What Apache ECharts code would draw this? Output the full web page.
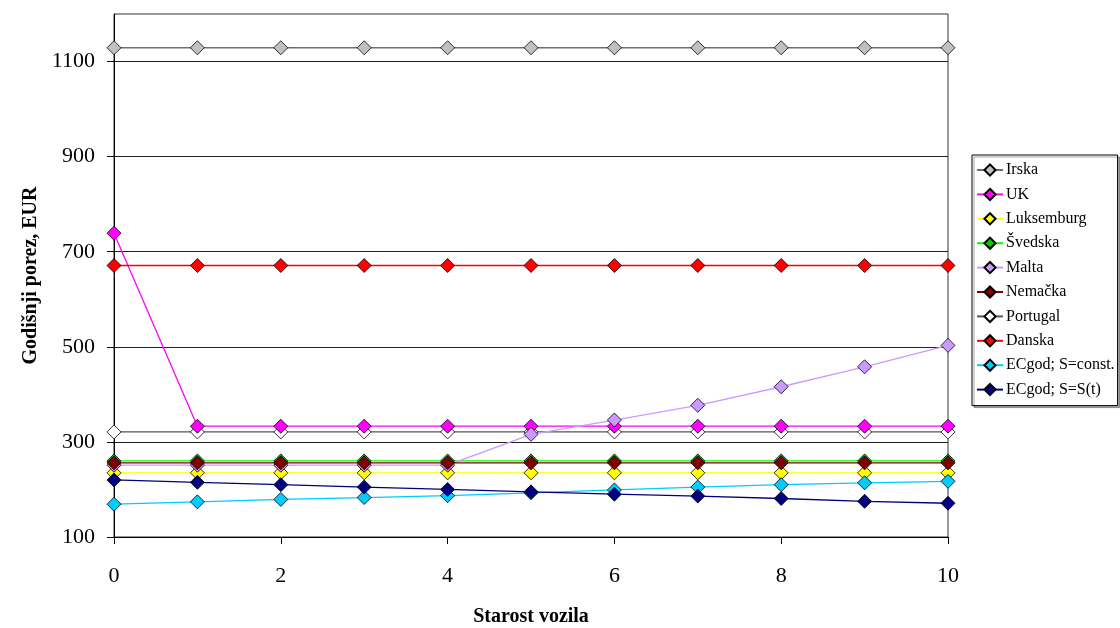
<!DOCTYPE html>
<html>
<head>
<meta charset="utf-8">
<script src="https://cdn.jsdelivr.net/npm/echarts@6/dist/echarts.min.js"></script>
<style>html,body{margin:0;padding:0;background:#fff}#c{width:1120px;height:628px}</style>
</head>
<body>
<div id="c"></div>
<script>
const years = [0,1,2,3,4,5,6,7,8,9,10];
const yTicks = [100,300,500,700,900,1100];
const xTicks = [0,2,4,6,8,10];
const irska      = [1129,1129,1129,1129,1129,1129,1129,1129,1129,1129,1129];
const uk         = [739,333,333,333,333,333,333,333,333,333,333];
const luksemburg = [235,235,235,235,235,235,235,235,235,235,235];
const svedska    = [260,260,260,260,260,260,260,260,260,260,260];
const malta      = [251,251,251,251,251,316,346,377,416,458,503];
const nemacka    = [256,256,256,256,256,256,256,256,256,256,256];
const portugal   = [321,321,321,321,321,321,321,321,321,321,321];
const danska     = [671,671,671,671,671,671,671,671,671,671,671];
const ecConst    = [169,174,179,183,187,193,199,205,210,214,217];
const ecSt       = [220,215,210,205,200,195,190,186,181,175,171];

const seriesDefs = [
  {name:'Irska', data:irska, line:'#6e6e6e', fill:'#c0c0c0', z:3},
  {name:'UK', data:uk, line:'#ff00ff', fill:'#ff00ff', z:3},
  {name:'Luksemburg', data:luksemburg, line:'#ffff00', fill:'#ffff00', z:3},
  {name:'Švedska', data:svedska, line:'#00ff00', fill:'#00cc00', z:3},
  {name:'Malta', data:malta, line:'#cc99ff', fill:'#cc99ff', z:4},
  {name:'Nemačka', data:nemacka, line:'#800000', fill:'#800000', z:4},
  {name:'Portugal', data:portugal, line:'#555555', fill:'#ffffff', z:2},
  {name:'Danska', data:danska, line:'#ff0000', fill:'#ff0000', z:3},
  {name:'ECgod; S=const.', data:ecConst, line:'#00ccff', fill:'#00ccff', z:3},
  {name:'ECgod; S=S(t)', data:ecSt, line:'#000080', fill:'#000080', z:4}
];

const font = '"Liberation Serif", "Times New Roman", serif';
const chart = echarts.init(document.getElementById('c'));
chart.setOption({
  animation:false,
  backgroundColor:'#fff',
  grid:{left:114, right:172, top:14, bottom:91, show:true, borderColor:'#333', borderWidth:1,
        backgroundColor:'transparent', containLabel:false, outerBoundsMode:'none'},
  xAxis:{
    type:'value', min:0, max:10, interval:2,
    name:'Starost vozila', nameLocation:'middle', nameGap:70,
    nameTextStyle:{fontFamily:font, fontSize:20, fontWeight:'bold', color:'#000'},
    axisLine:{lineStyle:{color:'#000', width:1}},
    axisTick:{show:true, length:7, lineStyle:{color:'#000'}, customValues:xTicks},
    axisLabel:{fontFamily:font, fontSize:22, color:'#000', margin:28, customValues:xTicks, formatter:v=>String(v)},
    splitLine:{show:false}
  },
  yAxis:{
    type:'value', min:100, max:1200,
    name:'Godišnji porez, EUR', nameLocation:'middle', nameGap:72,
    nameTextStyle:{fontFamily:font, fontSize:20, fontWeight:'bold', color:'#000'},
    axisLine:{show:true, lineStyle:{color:'#000', width:1}},
    axisTick:{show:true, length:7, lineStyle:{color:'#000'}, customValues:yTicks},
    axisLabel:{fontFamily:font, fontSize:22, color:'#000', margin:19, customValues:yTicks, formatter:v=>String(v)},
    splitLine:{show:true, lineStyle:{color:'#222', width:1}}
  },
  legend:{
    orient:'vertical', left:972, top:155,
    padding:[7,3,8,4], itemGap:8.4, itemWidth:26, itemHeight:14,
    backgroundColor:'#fff', borderColor:'#000', borderWidth:1,
    shadowColor:'rgba(0,0,0,0.35)', shadowOffsetX:2, shadowOffsetY:2, shadowBlur:0,
    textStyle:{fontFamily:font, fontSize:16, color:'#000', lineHeight:16, padding:[0,0,0,-2]},
    data:seriesDefs.map(s=>s.name)
  },
  series:seriesDefs.map(s=>({
    name:s.name, type:'line', z:s.z,
    data:years.map((x,i)=>[x, s.data[i]]),
    symbol:'diamond', symbolSize:14, showSymbol:true,
    lineStyle:{color:s.line, width:1.3},
    itemStyle:{color:s.fill, borderColor:'#000', borderWidth:0.8},
    emphasis:{disabled:true}
  }))
});
</script>
</body>
</html>
